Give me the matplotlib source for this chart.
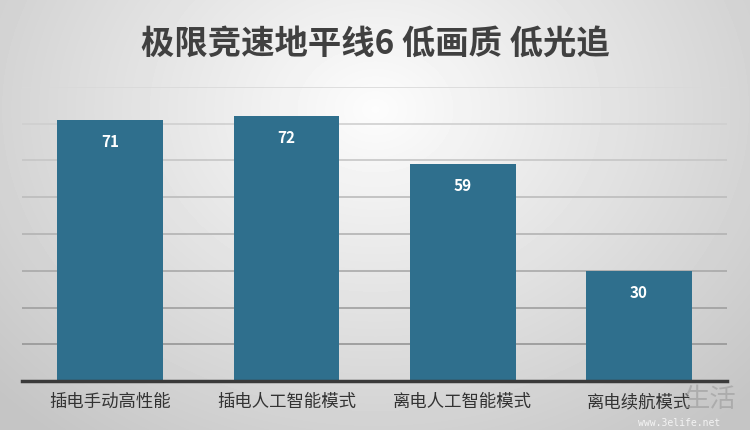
import numpy as np
import matplotlib
matplotlib.use('Agg')
import matplotlib.pyplot as plt

plt.rcParams['font.family'] = ['Noto Sans CJK SC', 'DejaVu Sans']

title = '极限竞速地平线6 低画质 低光追'
categories = ['插电手动高性能', '插电人工智能模式', '离电人工智能模式', '离电续航模式']
values = [71, 72, 59, 30]
yticks = [0, 10, 20, 30, 40, 50, 60, 70, 80]

bar_color = '#2f6f8d'

fig = plt.figure(figsize=(7.5, 4.31), dpi=100)

# radial grey background, light near the top centre
bg = fig.add_axes([0, 0, 1, 1], zorder=-10)
yy, xx = np.mgrid[0:431, 0:750]
r = np.sqrt(((xx - 375) / 520.0) ** 2 + ((yy - 110) / 420.0) ** 2)
shade = np.clip(0.99 - 0.22 * r, 0.77, 0.99)
bg.imshow(shade, cmap='gray', vmin=0, vmax=1, aspect='auto', interpolation='bilinear')
bg.axis('off')

ax = fig.add_axes([22 / 750, 1 - 382 / 431, 705 / 750, 294 / 431])
ax.patch.set_alpha(0)
x = np.arange(len(categories))
bars = ax.bar(x, values, width=0.6, color=bar_color, zorder=3)

ax.set_xlim(-0.5, len(categories) - 0.5)
ax.set_ylim(0, 80)
ax.set_yticks(yticks)
ax.tick_params(axis='y', left=False, labelleft=False)
ax.set_xticks(x)
ax.set_xticklabels(categories, fontsize=12.5, color='#333333')
ax.tick_params(axis='x', length=0, pad=8)

# grid lines get darker toward the bottom
for t in yticks[1:]:
    c = 0.55 + 0.3 * (t / 80.0)
    ax.axhline(t, color=(c, c, c), lw=1.2, zorder=1)

for s in ['top', 'right', 'left']:
    ax.spines[s].set_visible(False)
ax.spines['bottom'].set_color('#3a3a3a')
ax.spines['bottom'].set_linewidth(2.5)
ax.spines['bottom'].set_zorder(4)

for b, v in zip(bars, values):
    ax.annotate(str(v), (b.get_x() + b.get_width() / 2, v), xytext=(0, -15),
                textcoords='offset points', ha='center', va='center',
                color='white', fontsize=11, fontweight='bold', zorder=5)

fig.text(0.5, 1 - 44 / 431, title, ha='center', va='center',
         fontsize=24, fontweight='bold', color='#404040')

# watermark
fig.text(0.912, 1 - 400 / 431, '生活', ha='left', va='center', fontsize=19,
         color='#9a9a9a', alpha=0.6)
fig.text(0.85, 1 - 423 / 431, 'www.3elife.net', ha='left', va='center', fontsize=7,
         color='#ffffff', alpha=0.8, family='DejaVu Sans Mono')

fig.savefig('out.png', dpi=100)
